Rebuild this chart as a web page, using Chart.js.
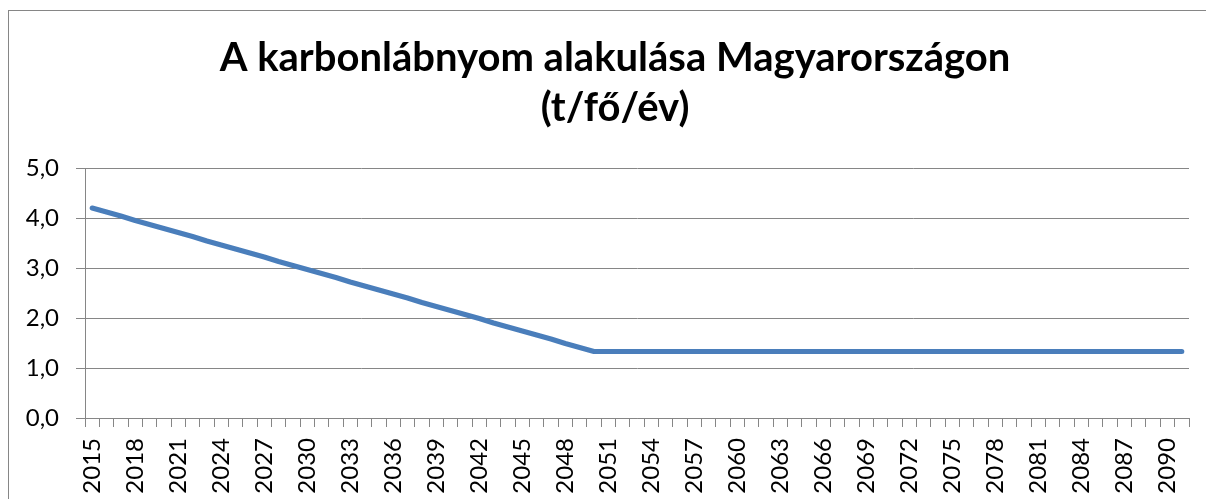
<!DOCTYPE html>
<html>
<head>
<meta charset="utf-8">
<script src="https://cdn.jsdelivr.net/npm/chart.js@4"></script>
<style>
  html, body { margin: 0; padding: 0; background: #fff; overflow: hidden; }
  #wrap { position: relative; width: 1206px; height: 499px; }
  #frame { position: absolute; left: 8px; top: 10px; width: 1300px; height: 600px;
           border-left: 1px solid #868686; border-top: 1px solid #868686; box-sizing: border-box; }
  canvas { position: absolute; left: 0; top: 0; }
</style>
</head>
<body>
<div id="wrap">
  <div id="frame"></div>
  <canvas id="c" width="1206" height="499"></canvas>
</div>
<script>
const titleLines = ["A karbonlábnyom alakulása Magyarországon", "(t/fő/év)"];
const years = [
  "2015","2016","2017","2018","2019","2020","2021","2022","2023","2024",
  "2025","2026","2027","2028","2029","2030","2031","2032","2033","2034",
  "2035","2036","2037","2038","2039","2040","2041","2042","2043","2044",
  "2045","2046","2047","2048","2049","2050","2051","2052","2053","2054",
  "2055","2056","2057","2058","2059","2060","2061","2062","2063","2064",
  "2065","2066","2067","2068","2069","2070","2071","2072","2073","2074",
  "2075","2076","2077","2078","2079","2080","2081","2082","2083","2084",
  "2085","2086","2087","2088","2089","2090","2091"
];
const footprint = [
  4.20, 4.12, 4.04, 3.95, 3.87, 3.79, 3.71, 3.63, 3.54, 3.46,
  3.38, 3.30, 3.22, 3.13, 3.05, 2.97, 2.89, 2.81, 2.72, 2.64,
  2.56, 2.48, 2.40, 2.31, 2.23, 2.15, 2.07, 1.99, 1.90, 1.82,
  1.74, 1.66, 1.58, 1.49, 1.41, 1.33, 1.33, 1.33, 1.33, 1.33,
  1.33, 1.33, 1.33, 1.33, 1.33, 1.33, 1.33, 1.33, 1.33, 1.33,
  1.33, 1.33, 1.33, 1.33, 1.33, 1.33, 1.33, 1.33, 1.33, 1.33,
  1.33, 1.33, 1.33, 1.33, 1.33, 1.33, 1.33, 1.33, 1.33, 1.33,
  1.33, 1.33, 1.33, 1.33, 1.33, 1.33, 1.33
];
const yTicks = [0, 1, 2, 3, 4, 5];

const GRID = '#868686';
const PAD_R = 17;
const TITLE_LEFT = 41;

const shiftTitle = {
  id: 'shiftTitle',
  afterLayout(chart) {
    const t = chart.titleBlock;
    if (t) { t.left = TITLE_LEFT; t.right = chart.width - PAD_R; }
  }
};

new Chart(document.getElementById('c'), {
  type: 'line',
  data: {
    labels: years,
    datasets: [{
      data: footprint,
      borderColor: '#4A7EBB',
      borderWidth: 5,
      borderCapStyle: 'round',
      borderJoinStyle: 'round',
      pointRadius: 0,
      tension: 0,
      fill: false
    }]
  },
  plugins: [shiftTitle],
  options: {
    responsive: false,
    animation: false,
    devicePixelRatio: 1,
    layout: { padding: { left: 0, right: PAD_R, top: 0, bottom: 0 } },
    plugins: {
      legend: { display: false },
      tooltip: { enabled: false },
      title: {
        display: true,
        text: titleLines,
        color: '#000',
        font: { family: 'Lato', weight: 'bold', size: 40, lineHeight: 50 / 40 },
        padding: { top: 33, bottom: 35 }
      }
    },
    scales: {
      x: {
        type: 'category',
        offset: true,
        grid: {
          offset: true,
          drawOnChartArea: false,
          drawTicks: true,
          tickLength: 9,
          color: GRID,
          lineWidth: 1
        },
        border: { display: true, color: GRID, width: 1 },
        ticks: {
          autoSkip: false,
          minRotation: 90,
          maxRotation: 90,
          padding: 11,
          color: '#000',
          font: { family: 'Lato', size: 24 },
          callback: function (v, i) { return i % 3 === 0 ? years[i] : ''; }
        },
        afterFit: function (s) { s.height = 81; s.paddingLeft = 0; s.paddingRight = 0; }
      },
      y: {
        min: 0,
        max: 5,
        afterBuildTicks: function (s) { s.ticks = yTicks.map(v => ({ value: v })); },
        grid: {
          drawOnChartArea: true,
          drawTicks: true,
          tickLength: 9,
          color: GRID,
          lineWidth: 1
        },
        border: { display: true, color: GRID, width: 1 },
        ticks: {
          padding: 17,
          color: '#000',
          font: { family: 'Lato', size: 24 },
          callback: function (v) { return Number(v).toFixed(1).replace('.', ','); }
        },
        afterFit: function (s) { s.width = 85; s.paddingTop = 0; s.paddingBottom = 0; }
      }
    }
  }
});
</script>
</body>
</html>
